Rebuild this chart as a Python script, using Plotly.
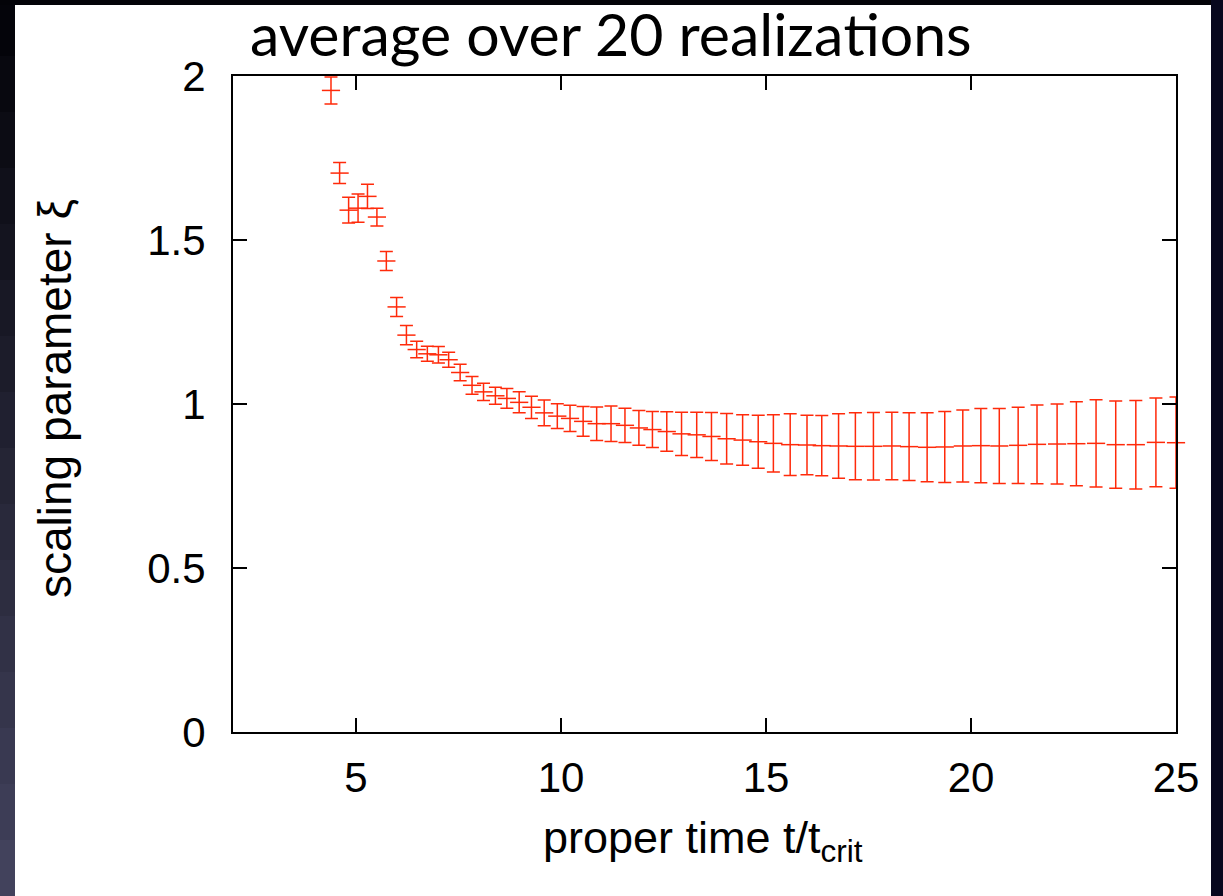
import plotly.graph_objects as go

# data
t_vals = [4.39, 4.60, 4.82, 5.05, 5.28, 5.51, 5.74, 5.99, 6.23, 6.48,
          6.74, 7.01, 7.26, 7.54, 7.83, 8.11, 8.40, 8.68, 8.98, 9.28,
          9.59, 9.91, 10.22, 10.54, 10.87, 11.22, 11.56, 11.90, 12.23, 12.58,
          12.94, 13.31, 13.67, 14.04, 14.43, 14.81, 15.18, 15.59, 16.00, 16.36,
          16.77, 17.18, 17.62, 18.07, 18.49, 18.93, 19.36, 19.80, 20.24, 20.69,
          21.15, 21.61, 22.10, 22.57, 23.05, 23.53, 24.02, 24.51, 25.00]
xi_vals = [1.956, 1.704, 1.591, 1.597, 1.633, 1.570, 1.436, 1.296, 1.210, 1.166,
           1.153, 1.150, 1.135, 1.096, 1.057, 1.037, 1.025, 1.017, 1.005, 0.990,
           0.973, 0.963, 0.956, 0.947, 0.940, 0.940, 0.935, 0.927, 0.922, 0.916,
           0.909, 0.906, 0.901, 0.894, 0.890, 0.885, 0.880, 0.876, 0.875, 0.873,
           0.872, 0.871, 0.871, 0.872, 0.870, 0.868, 0.869, 0.872, 0.873, 0.872,
           0.874, 0.877, 0.878, 0.879, 0.880, 0.876, 0.876, 0.883, 0.882]
xi_err = [0.041, 0.032, 0.039, 0.043, 0.037, 0.027, 0.029, 0.029, 0.029, 0.025,
          0.023, 0.025, 0.023, 0.025, 0.027, 0.026, 0.026, 0.030, 0.032, 0.034,
          0.039, 0.038, 0.040, 0.045, 0.051, 0.054, 0.052, 0.053, 0.055, 0.060,
          0.066, 0.069, 0.073, 0.077, 0.077, 0.081, 0.087, 0.094, 0.091, 0.092,
          0.098, 0.102, 0.103, 0.103, 0.103, 0.105, 0.108, 0.110, 0.113, 0.114,
          0.116, 0.120, 0.122, 0.128, 0.133, 0.133, 0.135, 0.135, 0.139]

x_ticks = [5, 10, 15, 20, 25]
y_ticks = [0, 0.5, 1, 1.5, 2]
y_ticklabels = ["0", "0.5", "1", "1.5", "2"]

title_text = "average over 20 realiza\u200ctions"
x_title = "proper time t/t<sub>crit</sub>"
y_title = "scaling parameter ξ"

RED = "#ff2a0a"
W, H = 1223, 896
L, R, T, B = 233, 47, 76, 164
pw, ph = W - L - R, H - T - B


def px_x(p):
    return (p - L) / pw


def px_y(p):
    return (H - B - p) / ph


fig = go.Figure()
fig.add_trace(go.Scatter(
    x=t_vals, y=xi_vals, mode="markers",
    marker=dict(symbol="line-ew", size=13, line=dict(color=RED, width=1.5), color=RED),
    error_y=dict(type="data", array=xi_err, visible=True, color=RED, thickness=1.5, width=6.5),
    showlegend=False, cliponaxis=False,
))

shapes = []
# dark slide frame: left strip with gradient, top strip, right strip
n = 16
for i in range(n):
    f = i / (n - 1)
    r_ = int(4 + 62 * f)
    g_ = int(4 + 62 * f)
    b_ = int(10 + 82 * f)
    shapes.append(dict(type="rect", xref="paper", yref="paper", layer="above",
                       x0=px_x(-2), x1=px_x(15), y0=px_y(i * H / n), y1=px_y((i + 1) * H / n + 1),
                       fillcolor=f"rgb({r_},{g_},{b_})", line=dict(width=0)))
shapes.append(dict(type="rect", xref="paper", yref="paper", layer="above",
                   x0=px_x(-2), x1=px_x(W + 2), y0=px_y(5), y1=px_y(-2),
                   fillcolor="rgb(3,3,8)", line=dict(width=0)))
shapes.append(dict(type="rect", xref="paper", yref="paper", layer="above",
                   x0=px_x(1211), x1=px_x(W + 2), y0=px_y(H + 2), y1=px_y(-2),
                   fillcolor="rgb(8,8,30)", line=dict(width=0)))

fig.update_layout(
    width=W, height=H,
    margin=dict(l=L, r=R, t=T, b=B, pad=0),
    paper_bgcolor="white",
    plot_bgcolor="white",
    shapes=shapes,
    font=dict(family="Liberation Sans, Arial, sans-serif", color="black"),
    annotations=[
        dict(text=title_text, xref="paper", yref="paper",
             x=px_x(248), y=px_y(71), xanchor="left", yanchor="bottom",
             showarrow=False, font=dict(family="Lato, sans-serif", size=59, color="black")),
        dict(text=x_title, xref="paper", yref="paper",
             x=px_x(703), y=px_y(840), xanchor="center", yanchor="middle",
             showarrow=False, font=dict(size=45, color="black")),
        dict(text=y_title, xref="paper", yref="paper", textangle=-90,
             x=px_x(55), y=px_y(399), xanchor="center", yanchor="middle",
             showarrow=False, font=dict(size=46, color="black")),
    ],
)
fig.update_xaxes(
    range=[2, 25], tickvals=x_ticks, ticks="inside", ticklen=14, tickwidth=1.5,
    tickcolor="black", showline=True, linecolor="black", linewidth=2, mirror="allticks",
    showgrid=False, zeroline=False, tickfont=dict(size=42), ticklabelstandoff=8,
)
fig.update_yaxes(
    range=[0, 2], tickvals=y_ticks, ticktext=y_ticklabels, ticks="inside", ticklen=14,
    tickwidth=1.5, tickcolor="black", showline=True, linecolor="black", linewidth=2,
    mirror="allticks", showgrid=False, zeroline=False, tickfont=dict(size=42),
    ticklabelstandoff=17,
)

fig.write_html("out.html")
